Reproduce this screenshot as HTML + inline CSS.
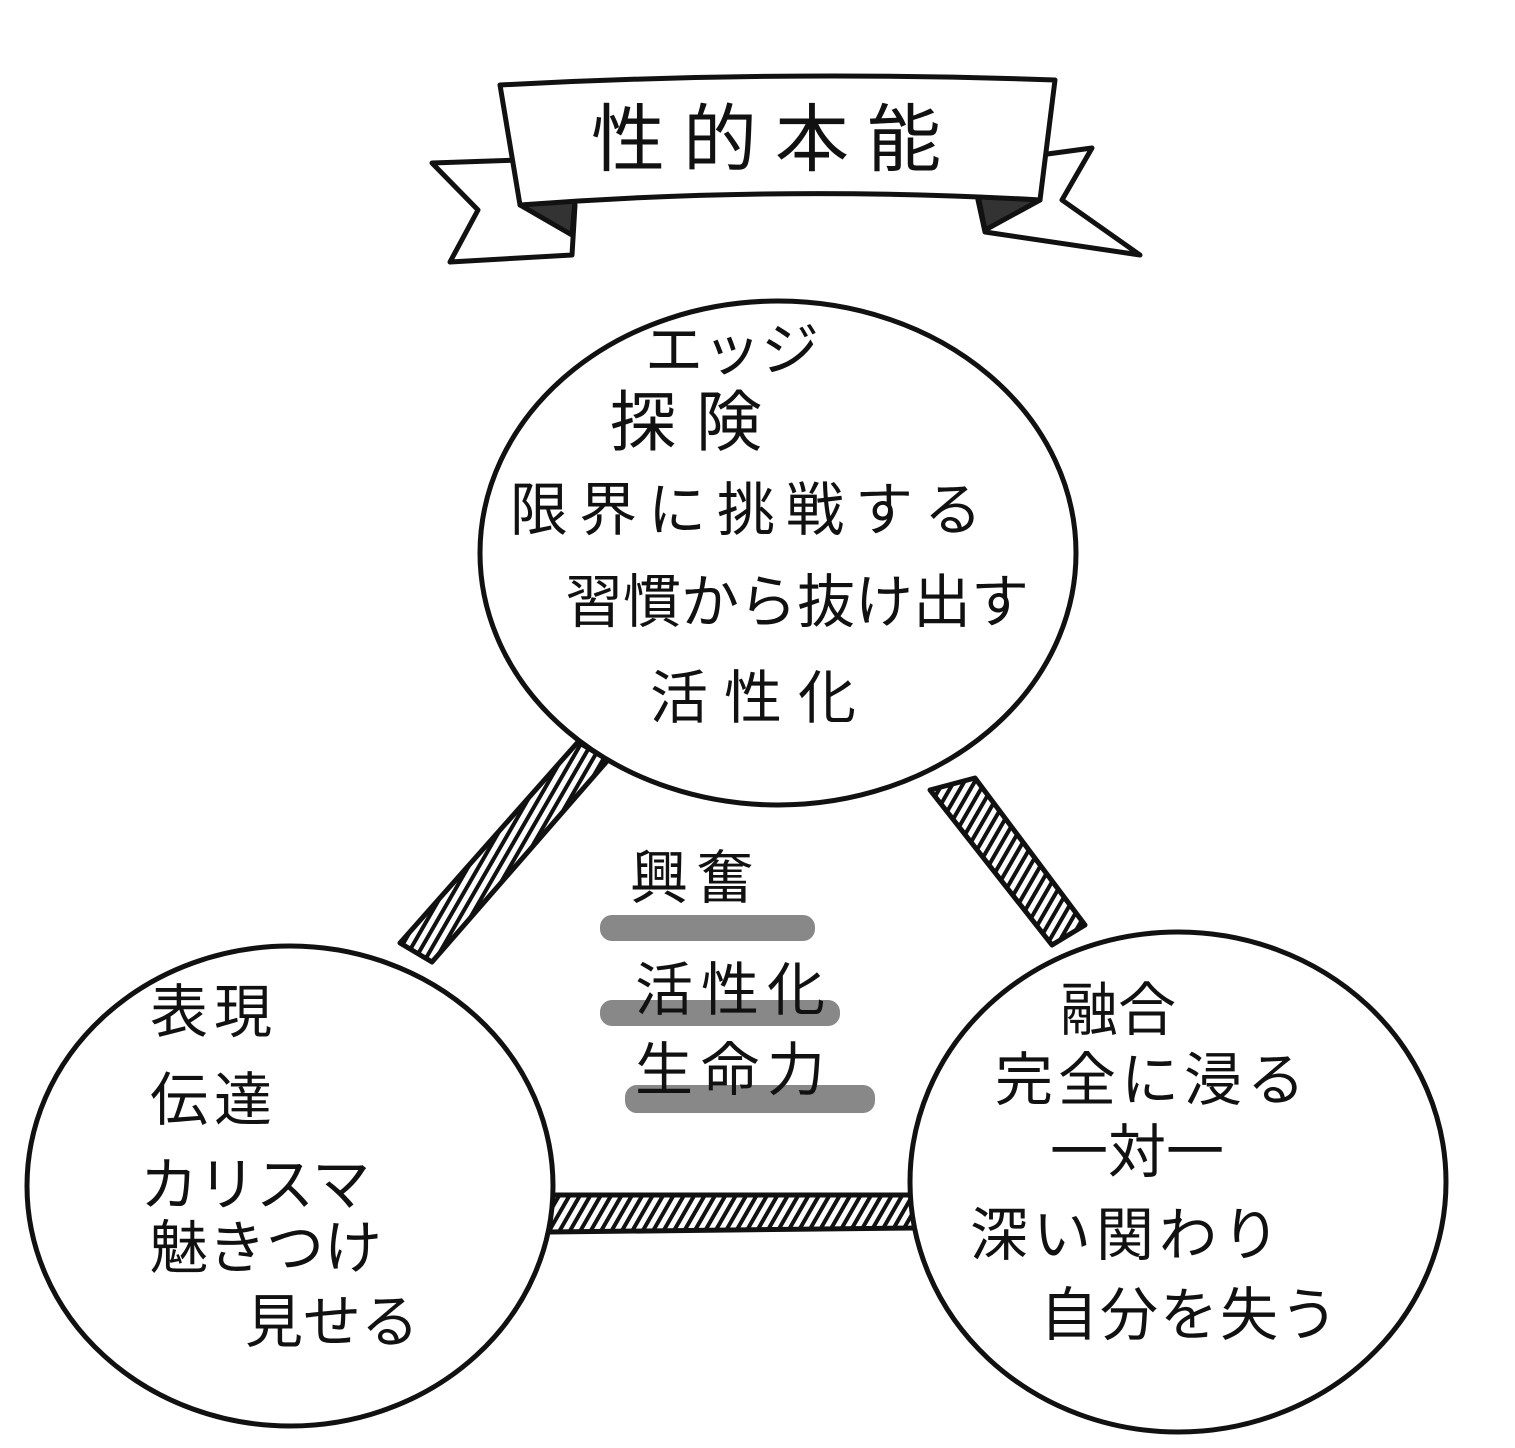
<!DOCTYPE html>
<html><head><meta charset="utf-8"><style>
html,body{margin:0;padding:0;background:#fff;}
svg{display:block}
text{font-family:"Liberation Sans","Noto Sans CJK JP",sans-serif;fill:#111;}
</style></head><body>
<svg width="1515" height="1448" viewBox="0 0 1515 1448" xmlns="http://www.w3.org/2000/svg">
<rect width="1515" height="1448" fill="#fff"/>
<defs>
<pattern id="h" width="9" height="9" patternUnits="userSpaceOnUse" patternTransform="rotate(30)">
<rect width="9" height="9" fill="#fff"/><rect width="4" height="9" fill="#111"/>
</pattern>
</defs>
<g fill="none" stroke="#111" stroke-width="5" stroke-linejoin="round" stroke-linecap="round">
<path d="M520,160 L432,163 L478,210 L450,262 L572,255 L575,205"/>
<path d="M1040,155 L1092,148 L1062,200 L1140,255 L985,232 L978,200"/>
<path d="M520,205 L575,200 L572,235 Z" fill="#333"/>
<path d="M978,195 L1040,200 L985,230 Z" fill="#333"/>
<path d="M500,85 Q780,70 1055,80 L1040,200 Q780,185 520,205 Z" fill="#fff"/>
<path d="M578,742 L608,760 L432,962 L400,943 Z" fill="url(#h)"/>
<path d="M930,790 L975,778 L1085,925 L1052,945 Z" fill="url(#h)"/>
<path d="M550,1195 L915,1195 L915,1228 L550,1232 Z" fill="url(#h)"/>
<ellipse cx="778" cy="553" rx="298" ry="252" fill="#fff"/>
<ellipse cx="290" cy="1186" rx="263" ry="240" fill="#fff"/>
<ellipse cx="1178" cy="1182" rx="268" ry="250" fill="#fff"/>
</g>
<g fill="#888">
<rect x="600" y="915" width="215" height="26" rx="12"/>
<rect x="600" y="1000" width="240" height="26" rx="12"/>
<rect x="625" y="1085" width="250" height="28" rx="12"/>
</g>
<g font-size="74" text-anchor="middle"><text x="775" y="165" letter-spacing="18">性的本能</text></g>
<g font-size="58">
<text x="645" y="370">エッジ</text>
<text x="610" y="445" font-size="66" letter-spacing="20">探険</text>
<text x="510" y="530" letter-spacing="11">限界に挑戦する</text>
<text x="565" y="622">習慣から抜け出す</text>
<text x="650" y="718" letter-spacing="16">活性化</text>
<text x="630" y="898" letter-spacing="8">興奮</text>
<text x="635" y="1010" letter-spacing="8">活性化</text>
<text x="635" y="1090" letter-spacing="8">生命力</text>
<text x="150" y="1032" letter-spacing="6">表現</text>
<text x="150" y="1120" letter-spacing="6">伝達</text>
<text x="140" y="1205">カリスマ</text>
<text x="150" y="1268">魅きつけ</text>
<text x="245" y="1342">見せる</text>
<text x="1060" y="1030">融合</text>
<text x="995" y="1100" letter-spacing="5">完全に浸る</text>
<text x="1050" y="1172">一対一</text>
<text x="970" y="1255" letter-spacing="5">深い関わり</text>
<text x="1040" y="1335" letter-spacing="2">自分を失う</text>
</g>
</svg>
</body></html>
